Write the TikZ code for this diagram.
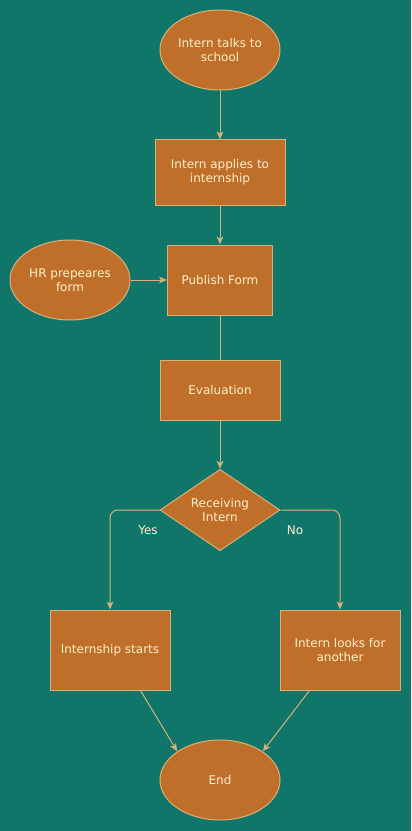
\documentclass[tikz,border=0pt]{standalone}
\usepackage{fontspec}
\setmainfont{DejaVu Sans}
\usetikzlibrary{shapes.geometric,arrows.meta}

\definecolor{bgteal}{RGB}{16,118,106}
\definecolor{boxorange}{RGB}{192,111,42}
\definecolor{linetan}{RGB}{214,178,120}
\definecolor{textcream}{RGB}{255,240,204}

\begin{document}
\begin{tikzpicture}[x=0.75pt,y=0.75pt,yscale=-1,xscale=1,
  font=\fontsize{9}{10.5}\selectfont,
  every node/.style={text=textcream,align=center},
  oval/.style={ellipse,draw=linetan,fill=boxorange,line width=0.75pt,minimum width=90pt,minimum height=60pt,inner sep=0pt},
  procbox/.style={rectangle,draw=linetan,fill=boxorange,line width=0.75pt,inner sep=0pt},
  decision/.style={diamond,draw=linetan,fill=boxorange,line width=0.75pt,minimum width=90pt,minimum height=60pt,inner sep=0pt},
  link/.style={draw=linetan,line width=0.75pt},
  arr/.style={link,-{Stealth[length=6pt,width=5pt,inset=1.5pt]}}]

%Background
\fill [bgteal] (0,0) rectangle (411,831) ;
\useasboundingbox (0,0) rectangle (411,831) ;

%Shape: Ellipse
\node [oval] (talks) at (220,50) {Intern talks to\\school};
%Shape: Rectangle
\node [procbox,minimum width=97.5pt,minimum height=48.75pt] (applies) at (220,172.5) {Intern applies to\\internship};
%Shape: Rectangle
\node [procbox,minimum width=78.75pt,minimum height=52.5pt] (publish) at (220,280) {Publish Form};
%Shape: Ellipse
\node [oval] (hrform) at (70,280) {HR prepeares\\form};
%Shape: Rectangle
\node [procbox,minimum width=90pt,minimum height=45pt] (evaluation) at (220,390) {Evaluation};
%Shape: Diamond
\node [decision] (receiving) at (220,510) {Receiving\\Intern};
%Shape: Rectangle
\node [procbox,minimum width=90pt,minimum height=60pt] (starts) at (110,650) {Internship starts};
%Shape: Rectangle
\node [procbox,minimum width=90pt,minimum height=60pt] (another) at (340,650) {Intern looks for\\another};
%Shape: Ellipse
\node [oval] (finish) at (220,780) {End};

% Text Node
\node (yes) at (148,530) {Yes};
% Text Node
\node (no) at (295,530) {No};

%Straight Lines
\draw [arr] (talks) -- (applies) ;
\draw [arr] (applies) -- (publish) ;
\draw [arr] (hrform) -- (publish) ;
\draw [link] (publish) -- (evaluation) ;
\draw [arr] (evaluation) -- (receiving) ;
\draw [arr,rounded corners=6pt] (receiving.west) -| (starts.north) ;
\draw [arr,rounded corners=6pt] (receiving.east) -| (another.north) ;
\draw [arr] ([xshift=-22.5pt]starts.south east) -- (finish.north west) ;
\draw [arr] ([xshift=22.5pt]another.south west) -- (finish.north east) ;

\end{tikzpicture}
\end{document}
